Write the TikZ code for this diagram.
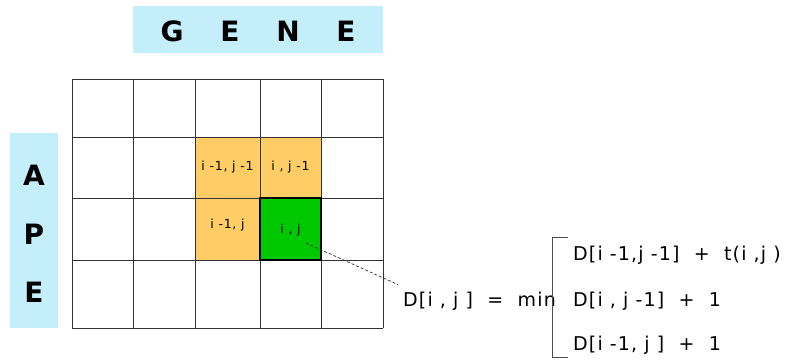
\documentclass[tikz,border=0pt]{standalone}
\usepackage{fontspec}
\setmainfont{DejaVu Sans}
\newfontfamily\formfont[LetterSpace=6]{DejaVu Sans}
\definecolor{hdrblue}{HTML}{C5EEFB}
\definecolor{cellorange}{HTML}{FFCC66}
\definecolor{cellgreen}{HTML}{00C800}
\definecolor{gridline}{HTML}{333333}
\begin{document}
\begin{tikzpicture}[x=1pt,y=-1pt,
  hdr/.style={font=\fontsize{28}{30}\selectfont\bfseries, text=black, inner sep=0pt},
  celltxt/.style={font=\formfont\fontsize{12.5}{14}\selectfont, inner sep=0pt},
  formtxt/.style={font=\formfont\fontsize{19}{22}\selectfont, inner sep=0pt, anchor=west},
  gridstyle/.style={draw=gridline, line width=0.9pt}]
\useasboundingbox (0,0) rectangle (788,360);
% header boxes
\fill[hdrblue] (133,6) rectangle (383,53);
\fill[hdrblue] (10,133) rectangle (58,328);
\node[hdr] (g1) at (172,31) {G};
\node[hdr] (g2) at (230,31) {E};
\node[hdr] (g3) at (288,31) {N};
\node[hdr] (g4) at (346,31) {E};
\node[hdr] (a1) at (34,175) {A};
\node[hdr] (a2) at (34,234) {P};
\node[hdr] (a3) at (34,292) {E};
% coloured cells
\fill[cellorange] (195,137) rectangle (321,198);
\fill[cellorange] (195,198) rectangle (260,260);
% grid
\foreach \x in {72,133,195,260,321,383} \draw[gridstyle] (\x,79) -- (\x,328);
\foreach \y in {79,137,198,260,328} \draw[gridstyle] (72,\y) -- (383,\y);
% green cell
\node[draw=black, line width=2.8pt, fill=cellgreen, minimum width=61pt, minimum height=62pt, inner sep=0pt] (cij) at (290.5,229) {};
\node[celltxt] (t1) at (227.5,167) {i -1, j -1};
\node[celltxt] (t2) at (290.5,167) {i , j -1};
\node[celltxt] (t3) at (227.5,225) {i -1, j};
\node[celltxt] (t4) at (290.5,230) {i , j};
% formula
\node[formtxt] (lhs) at (403,301) {D[i , j ]\ \ =\ \ min};
\draw[gray!60!black, line width=0.9pt] (568,237) -- (552,237) -- (552,357) -- (568,357);
\node[formtxt] (f1) at (573,255) {D[i -1,j -1]\ \ +\ \ t(i ,j )};
\node[formtxt] (f2) at (573,301) {D[i , j -1]\ \ +\ \ 1};
\node[formtxt] (f3) at (573,345) {D[i -1, j ]\ \ +\ \ 1};
\coordinate (dstart) at (306,243);
\coordinate (dend) at ([xshift=-5pt,yshift=7pt]lhs.north west);
\draw[gray!40!black, dashed, dash pattern=on 3pt off 2pt, line width=0.7pt] (dstart) -- (dend);
\end{tikzpicture}
\end{document}
